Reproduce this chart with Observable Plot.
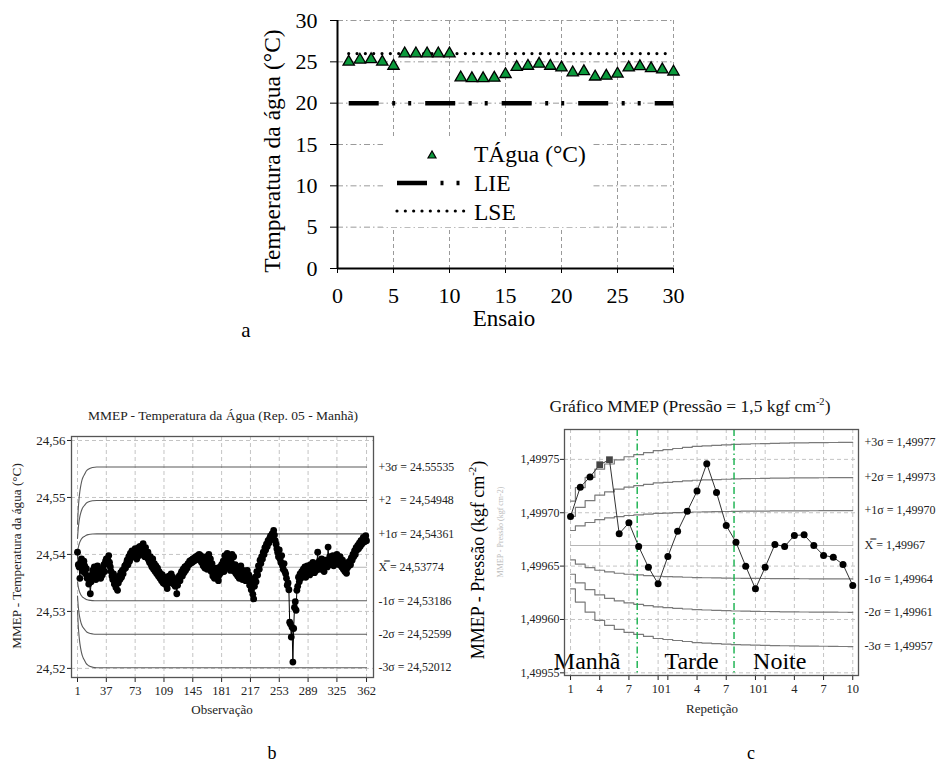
<!DOCTYPE html>
<html><head><meta charset="utf-8">
<script src="https://cdn.jsdelivr.net/npm/d3@7"></script>
<script src="https://cdn.jsdelivr.net/npm/@observablehq/plot@0.6"></script>
<style>
html,body{margin:0;padding:0;background:#fff;}
#root{position:relative;width:941px;height:764px;overflow:hidden;font-family:"Liberation Serif","Times New Roman",serif;color:#000;}
.t{position:absolute;white-space:nowrap;line-height:1;}
sup{font-size:0.6em;position:relative;top:-0.15em;vertical-align:top;line-height:1;}
</style></head><body><div id="root"></div>
<script>
// ---------------- Panel a data ----------------
const ensaio = [1,2,3,4,5,6,7,8,9,10,11,12,13,14,15,16,17,18,19,20,21,22,23,24,25,26,27,28,29,30];
const tAgua = [25.0,25.25,25.3,25.0,24.5,26.0,26.0,26.0,26.0,26.0,23.1,23.0,23.0,23.05,23.5,24.35,24.5,24.75,24.5,24.3,23.7,23.85,23.2,23.3,23.55,24.3,24.45,24.2,24.05,23.8];
const LIE = 20;
const LSE = 26;
const ticksA = [0,5,10,15,20,25,30];

// ---------------- Panel b data ----------------
const tempB = [
24.5404,24.5382,24.5378,24.5358,24.5386,24.5392,24.5374,24.5370,24.5388,24.5380,
24.5366,24.5375,24.5358,24.5362,24.5348,24.5355,24.5331,24.5352,24.5364,24.5372,
24.5360,24.5378,24.5368,24.5356,24.5374,24.5380,24.5362,24.5370,24.5366,24.5358,
24.5372,24.5364,24.5376,24.5382,24.5370,24.5388,24.5392,24.5384,24.5390,24.5398,
24.5386,24.5378,24.5370,24.5362,24.5356,24.5366,24.5348,24.5352,24.5342,24.5358,
24.5337,24.5350,24.5362,24.5356,24.5368,24.5360,24.5372,24.5366,24.5374,24.5380,
24.5376,24.5384,24.5390,24.5382,24.5396,24.5388,24.5402,24.5394,24.5406,24.5398,
24.5404,24.5396,24.5410,24.5400,24.5392,24.5408,24.5412,24.5398,24.5414,24.5404,
24.5410,24.5402,24.5419,24.5408,24.5396,24.5412,24.5400,24.5394,24.5404,24.5390,
24.5386,24.5396,24.5382,24.5378,24.5392,24.5374,24.5384,24.5370,24.5380,24.5366,
24.5376,24.5362,24.5370,24.5358,24.5366,24.5354,24.5364,24.5350,24.5360,24.5348,
24.5356,24.5346,24.5340,24.5354,24.5362,24.5350,24.5358,24.5366,24.5352,24.5360,
24.5348,24.5356,24.5344,24.5350,24.5331,24.5346,24.5356,24.5362,24.5354,24.5366,
24.5370,24.5362,24.5374,24.5368,24.5378,24.5372,24.5380,24.5376,24.5384,24.5382,
24.5388,24.5384,24.5390,24.5386,24.5392,24.5388,24.5394,24.5390,24.5396,24.5392,
24.5398,24.5394,24.5400,24.5390,24.5398,24.5386,24.5392,24.5380,24.5388,24.5376,
24.5384,24.5396,24.5374,24.5388,24.5400,24.5380,24.5392,24.5370,24.5384,24.5362,
24.5372,24.5358,24.5366,24.5376,24.5360,24.5370,24.5354,24.5364,24.5378,24.5368,
24.5382,24.5374,24.5388,24.5370,24.5398,24.5384,24.5376,24.5402,24.5390,24.5380,
24.5394,24.5372,24.5386,24.5400,24.5378,24.5396,24.5370,24.5382,24.5366,24.5376,
24.5362,24.5374,24.5358,24.5370,24.5380,24.5364,24.5356,24.5372,24.5360,24.5368,
24.5354,24.5366,24.5372,24.5358,24.5364,24.5346,24.5356,24.5338,24.5348,24.5330,
24.5322,24.5344,24.5360,24.5352,24.5370,24.5364,24.5380,24.5374,24.5390,24.5384,
24.5396,24.5392,24.5404,24.5400,24.5412,24.5408,24.5418,24.5414,24.5424,24.5420,
24.5428,24.5432,24.5426,24.5436,24.5430,24.5442,24.5434,24.5424,24.5418,24.5410,
24.5404,24.5396,24.5408,24.5392,24.5386,24.5398,24.5380,24.5374,24.5384,24.5370,
24.5366,24.5358,24.5346,24.5350,24.5338,24.5281,24.5278,24.5255,24.5272,24.5211,
24.5270,24.5307,24.5317,24.5302,24.5337,24.5344,24.5360,24.5352,24.5366,24.5358,
24.5370,24.5362,24.5374,24.5366,24.5378,24.5360,24.5372,24.5380,24.5368,24.5376,
24.5364,24.5382,24.5370,24.5378,24.5386,24.5374,24.5368,24.5380,24.5372,24.5384,
24.5404,24.5378,24.5388,24.5374,24.5382,24.5392,24.5376,24.5386,24.5370,24.5380,
24.5390,24.5384,24.5378,24.5413,24.5388,24.5396,24.5382,24.5392,24.5386,24.5398,
24.5380,24.5390,24.5394,24.5384,24.5400,24.5388,24.5392,24.5382,24.5396,24.5386,
24.5378,24.5390,24.5374,24.5384,24.5370,24.5380,24.5367,24.5376,24.5386,24.5380,
24.5388,24.5382,24.5394,24.5390,24.5400,24.5396,24.5406,24.5400,24.5412,24.5408,
24.5416,24.5410,24.5420,24.5414,24.5424,24.5418,24.5426,24.5430,24.5422,24.5428,
24.5433,24.5424];
const obsB = d3.range(1, tempB.length + 1);
const xTicksB = [1,37,73,109,145,181,217,253,289,325,362];
const yTicksB = [24.52,24.53,24.54,24.55,24.56];
const meanB = 24.53774;
const limitsB = [24.55535,24.54948,24.54361,24.53774,24.53186,24.52599,24.52012];
const labelsB = ["+3σ = 24.55535","+2\u00A0\u00A0\u00A0= 24,54948","+1σ = 24,54361","X\u033F = 24,53774","-1σ = 24,53186","-2σ = 24,52599","-3σ = 24,52012"];
const limObsB = [1,2,3,4,5,6,7,8,10,12,15,20,25,362];
const limFracB = [0.43,0.59,0.69,0.76,0.81,0.85,0.88,0.90,0.93,0.96,0.98,0.995,1,1];

// ---------------- Panel c data ----------------
const repC = [1,2,3,4,5,6,7,8,9,10,11,12,13,14,15,16,17,18,19,20,21,22,23,24,25,26,27,28,29,30];
const pressC = [1.4996965,1.4997240,1.4997335,1.4997450,1.4997497,1.4996803,1.4996906,1.4996684,1.4996490,1.4996334,
                1.4996590,1.4996827,1.4997015,1.4997203,1.4997460,1.4997190,1.4996880,1.4996724,1.4996499,1.4996287,
                1.4996490,1.4996703,1.4996684,1.4996787,1.4996793,1.4996693,1.4996600,1.4996584,1.4996515,1.4996318];
const markerC = ["circle","circle","circle","square","square","circle","circle","circle","circle","circle",
                 "circle","circle","circle","circle","circle","circle","circle","circle","circle","circle",
                 "circle","circle","circle","circle","circle","circle","circle","circle","circle","circle"];
const xTicksC = [1,4,7,10,11,14,17,20,21,24,27,30];
const xTickLabelsC = ["1","4","7","10","1","4","7","10","1","4","7","10"];
const yTicksC = [1.49955,1.4996,1.49965,1.4997,1.49975];
const centerC = 1.4996693;
const limitsC = [1.499766,1.499733,1.499702,1.4996693,1.499638,1.4996067,1.4995746];
const labelsC = ["+3σ = 1,49977","+2σ = 1,49973","+1σ = 1,49970","X\u033F = 1,49967","-1σ = 1,49964","-2σ = 1,49961","-3σ = 1,49957"];
const limFracC = [0.43,0.56,0.66,0.74,0.79,0.83,0.86,0.88,0.90,0.92,0.93,0.94,0.95,0.96,0.965,
                  0.97,0.975,0.98,0.983,0.986,0.988,0.99,0.992,0.994,0.995,0.996,0.997,0.998,0.999,1.0];
const shiftBreaks = [7.85, 17.8];
const periodNames = ["Manhã","Tarde","Noite"];
const periodX = [2.71, 13.44, 22.5];
const periodY = 1.499554;

// ---------------- helpers ----------------
const SERIF = "'Liberation Serif','Times New Roman',serif";
const root = document.getElementById("root");
function place(node, left, top, w, h, clip) {
  const d = document.createElement("div");
  d.style.cssText = `position:absolute;left:${left}px;top:${top}px;width:${w}px;height:${h}px;${clip ? "overflow:hidden;" : ""}`;
  d.appendChild(node);
  root.appendChild(d);
}
function label(html, x, baseline, size, extra = "") {
  const d = document.createElement("div");
  d.className = "t";
  d.innerHTML = html;
  d.style.cssText += `left:${x}px;top:${baseline - 0.8375 * size}px;font-size:${size}px;transform:translateX(-50%);${extra}`;
  root.appendChild(d);
}
function vlabel(html, cx, cy, size, extra = "") {
  const d = document.createElement("div");
  d.className = "t";
  d.innerHTML = html;
  d.style.cssText += `left:${cx}px;top:${cy}px;font-size:${size}px;transform:translate(-50%,-50%) rotate(-90deg);${extra}`;
  root.appendChild(d);
}

// ---------------- Panel a ----------------
const GREEN = "#0b9a3c";
const plotA = Plot.plot({
  width: 460, height: 345,
  marginLeft: 107, marginRight: 17, marginTop: 20, marginBottom: 77,
  style: {fontFamily: SERIF, fontSize: "22px", background: "transparent", color: "#000", overflow: "visible"},
  x: {domain: [0, 30]},
  y: {domain: [0, 30]},
  marks: [
    Plot.gridY(ticksA.slice(1), {stroke: "#9a9a9a", strokeOpacity: 1, strokeDasharray: "6,3,1.5,3"}),
    Plot.gridX(ticksA.slice(1), {stroke: "#9a9a9a", strokeOpacity: 1, strokeDasharray: "4,3"}),
    Plot.axisY(ticksA, {tickSize: 7, tickPadding: 13, label: null, fontSize: 22}),
    Plot.axisX(ticksA, {tickSize: 5, tickPadding: 14, label: null, fontSize: 22}),
    Plot.ruleX([0], {strokeWidth: 2}),
    Plot.ruleY([0], {strokeWidth: 2}),
    Plot.line(ensaio, {x: d => d, y: () => LIE, stroke: "#000", strokeWidth: 4.5, strokeDasharray: "30,13.5,3,13,3,14", strokeLinecap: "butt"}),
    Plot.line(ensaio, {x: d => d, y: () => LSE, stroke: "#000", strokeWidth: 3.2, strokeDasharray: "0,8.33", strokeLinecap: "round"}),
    Plot.dot(ensaio, {x: d => d, y: (d, i) => tAgua[i], symbol: "triangle", r: 4.2, fill: GREEN, stroke: "#000", strokeWidth: 1.3})
  ]
});
place(plotA, 230, 0, 460, 345, false);

// legend of panel a (white box over the grid)
const legA = document.createElement("div");
legA.style.cssText = "position:absolute;left:383px;top:139px;width:209px;height:88px;background:#fff;";
legA.innerHTML = `<svg width="209" height="88" style="overflow:visible;font-family:${SERIF}">
  <polygon points="49,12 45,19 53,19" fill="${GREEN}" stroke="#000" stroke-width="1.2"/>
  <text x="91" y="23" font-size="23.5">TÁgua (°C)</text>
  <line x1="14" x2="78" y1="44" y2="44" stroke="#000" stroke-width="4.5" stroke-dasharray="30,13.5,3,13,3,14"/>
  <text x="91" y="52" font-size="23.5">LIE</text>
  <line x1="14" x2="84" y1="72" y2="72" stroke="#000" stroke-width="3.2" stroke-linecap="round" stroke-dasharray="0,8.33"/>
  <text x="91" y="81" font-size="23.5">LSE</text>
</svg>`;
root.appendChild(legA);

vlabel("Temperatura da água (°C)", 273, 151, 23.5);
label("Ensaio", 504, 326, 23);
label("a", 246, 338, 21);

// ---------------- Panel b ----------------
function limitCurveB(L) {
  return limObsB.map((o, i) => ({x: o, y: meanB + (L - meanB) * limFracB[i]}));
}
const plotB = Plot.plot({
  width: 456, height: 290,
  marginLeft: 71, marginRight: 83, marginTop: 6, marginBottom: 43,
  style: {fontFamily: SERIF, fontSize: "12px", background: "transparent", color: "#222"},
  x: {domain: [-6.5, 370.7]},
  y: {domain: [24.5184, 24.5607]},
  marks: [
    Plot.gridX(xTicksB, {stroke: "#c4c4c4", strokeOpacity: 1, strokeDasharray: "4,3"}),
    Plot.gridY(yTicksB, {stroke: "#c4c4c4", strokeOpacity: 1, strokeDasharray: "4,3"}),
    Plot.axisX(xTicksB, {tickSize: 5, tickPadding: 4, label: null, fontSize: 12.5, tickFormat: d => String(d)}),
    Plot.axisY(yTicksB, {tickSize: 4, tickPadding: 2, label: null, fontSize: 13, tickFormat: d => d.toFixed(2).replace(".", ",")}),
    ...limitsB.map(L => Plot.line(limitCurveB(L), {x: "x", y: "y", curve: "monotone-x",
        stroke: L === meanB ? "#b5b5b5" : "#5a5a5a", strokeWidth: 1.1})),
    Plot.line(obsB, {x: d => d, y: (d, i) => tempB[i], stroke: "#000", strokeWidth: 1}),
    Plot.dot(obsB, {x: d => d, y: (d, i) => tempB[i], r: 3.4, fill: "#000"}),
    Plot.frame({stroke: "#555", strokeWidth: 1.3}),
    Plot.text(limitsB, {y: d => d, text: (d, i) => labelsB[i], frameAnchor: "right", textAnchor: "start", dx: 5, fontSize: 11.8, fill: "#222"})
  ]
});
place(plotB, 0, 430, 456, 290, true);

label("MMEP - Temperatura da Água (Rep. 05 - Manhã)", 223, 420, 13.5, "color:#222;");
vlabel("MMEP - Temperatura da água (°C)", 17, 556, 13.2, "color:#222;");
label("Observação", 222, 714, 13, "color:#222;");
label("b", 272, 759, 18);

// ---------------- Panel c ----------------
function limitCurveC(L) {
  return repC.map((o, i) => ({x: o, y: centerC + (L - centerC) * limFracC[i]}));
}
const tickLabelC = new Map(xTicksC.map((t, i) => [t, xTickLabelsC[i]]));
const plotC = Plot.plot({
  width: 471, height: 300,
  marginLeft: 94, marginRight: 83, marginTop: 9, marginBottom: 45,
  style: {fontFamily: SERIF, fontSize: "12px", background: "transparent", color: "#222"},
  x: {domain: [0.38, 30.59]},
  y: {domain: [1.4995475, 1.499778]},
  marks: [
    Plot.gridX(xTicksC, {stroke: "#c4c4c4", strokeOpacity: 1, strokeDasharray: "4,3"}),
    Plot.gridY(yTicksC, {stroke: "#c4c4c4", strokeOpacity: 1, strokeDasharray: "4,3"}),
    Plot.axisX(xTicksC, {tickSize: 5, tickPadding: 4, label: null, fontSize: 12.5, tickFormat: d => tickLabelC.get(d)}),
    Plot.axisY(yTicksC, {tickSize: 4, tickPadding: 1, label: null, fontSize: 12, tickFormat: d => d.toFixed(5).replace(".", ",")}),
    ...limitsC.map(L => Plot.line(limitCurveC(L), {x: "x", y: "y", curve: "step",
        stroke: L === centerC ? "#b5b5b5" : "#7a7a7a", strokeWidth: 1.2})),
    Plot.ruleX(shiftBreaks, {stroke: "#14b04a", strokeWidth: 1.4, strokeDasharray: "7,3,1.5,3"}),
    Plot.line(repC, {x: d => d, y: (d, i) => pressC[i], stroke: "#333", strokeWidth: 1}),
    Plot.dot(repC, {filter: (d, i) => markerC[i] === "circle", x: d => d, y: (d, i) => pressC[i], r: 3.5, fill: "#000"}),
    Plot.dot(repC, {filter: (d, i) => markerC[i] === "square", x: d => d, y: (d, i) => pressC[i], symbol: "square", r: 3.8, fill: "#444"}),
    Plot.text(periodNames, {x: (d, i) => periodX[i], y: () => periodY, text: d => d, fontSize: 24, lineAnchor: "bottom", fill: "#000"}),
    Plot.frame({stroke: "#555", strokeWidth: 1.3}),
    Plot.text(limitsC, {y: d => d, text: (d, i) => labelsC[i], frameAnchor: "right", textAnchor: "start", dx: 6, fontSize: 12, fill: "#222"})
  ]
});
place(plotC, 470, 420, 471, 300, false);

label("Gráfico MMEP (Pressão = 1,5 kgf cm<sup>-2</sup>)", 690, 413, 17.5, "color:#111;");
vlabel("MMEP - Pressão (kgf cm<sup>-2</sup>)", 478, 560, 18);
vlabel("MMEP - Pressão (kgf cm-2)", 501, 532, 8, "color:#bbb;");
label("Repetição", 712, 713, 13, "color:#222;");
label("c", 751, 759, 18);
</script></body></html>
